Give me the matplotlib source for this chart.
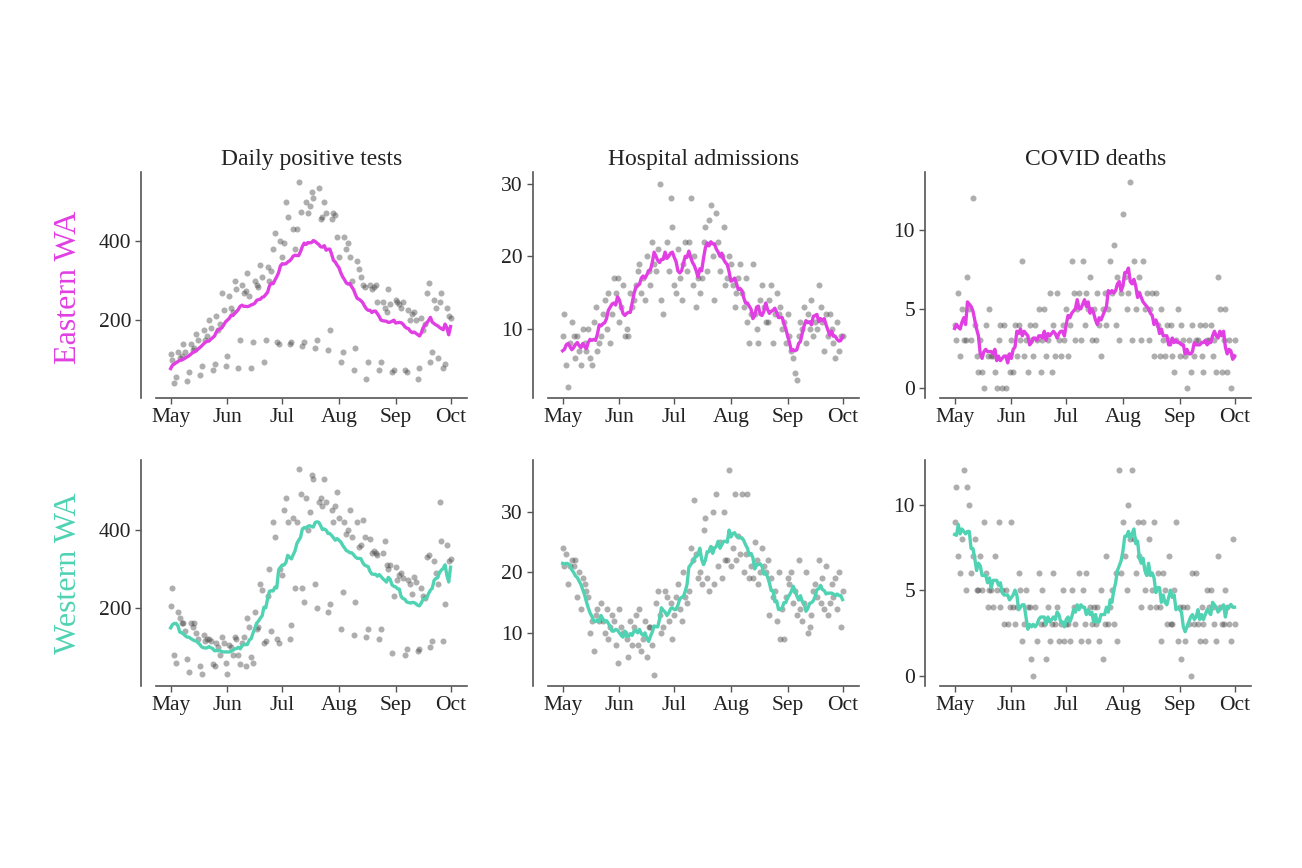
import numpy as np
import pandas as pd
import matplotlib
matplotlib.use("Agg")
import matplotlib.pyplot as plt
import matplotlib.dates as mdates

plt.rcParams['font.family'] = ['Liberation Serif', 'DejaVu Serif']

# ---------------- data ----------------
start_date = "2020-05-01"
n_days = 154
months = ["May", "Jun", "Jul", "Aug", "Sep", "Oct"]
month_starts = ["2020-05-01", "2020-06-01", "2020-07-01", "2020-08-01", "2020-09-01", "2020-10-01"]

row_labels = ["Eastern WA", "Western WA"]
col_titles = ["Daily positive tests", "Hospital admissions", "COVID deaths"]

east_tests = [
    115, 100, 40, 55, 120, 105, 109,
    140, 120, 45, 70, 140, 125, 130,
    165, 150, 60, 85, 175, 150, 160,
    200, 180, 75, 90, 210, 175, 190,
    270, 225, 85, 110, 260, 230, 220,
    300, 280, 80, 150, 290, 270, 275,
    320, 260, 80, 145, 300, 290, 285,
    340, 310, 95, 150, 335, 300, 325,
    380, 420, 145, 140, 400, 360, 395,
    500, 460, 140, 145, 430, 380, 430,
    550, 475, 135, 145, 500, 470, 490,
    525, 510, 130, 150, 535, 455, 460,
    500, 470, 125, 175, 455, 470, 465,
    410, 360, 95, 120, 410, 380, 395,
    360, 300, 75, 130, 350, 330, 310,
    290, 285, 50, 95, 290, 280, 285,
    290, 245, 75, 95, 245, 230, 220,
    280, 240, 70, 75, 250, 245, 240,
    230, 245, 75, 70, 225, 200, 215,
    220, 200, 50, 80, 205, 175, 190,
    270, 295, 95, 120, 250, 230, 105,
    245, 270, 80, 90, 230, 210, 205,
]
east_hosp = [
    9, 12, 5, 2, 8, 11, 9,
    6, 9, 7, 5, 10, 8, 7,
    10, 6, 5, 11, 13, 7, 8,
    9, 12, 14, 10, 15, 8, 12,
    17, 15, 17, 11, 13, 16, 9,
    10, 9, 15, 13, 14, 16, 18,
    19, 15, 17, 14, 20, 18, 16,
    22, 19, 18, 21, 30, 14, 12,
    20, 22, 18, 28, 24, 16, 15,
    21, 17, 14, 19, 22, 18, 22,
    28, 16, 20, 13, 17, 15, 17,
    22, 24, 18, 25, 27, 20, 14,
    26, 22, 18, 20, 24, 16, 17,
    20, 19, 16, 13, 15, 17, 19,
    15, 13, 17, 11, 8, 12, 19,
    12, 10, 8, 14, 16, 13, 11,
    11, 14, 16, 8, 12, 15, 12,
    13, 10, 11, 8, 12, 9, 7,
    6, 4, 3, 9, 11, 10, 13,
    8, 12, 10, 14, 9, 11, 10,
    16, 13, 11, 7, 12, 9, 12,
    10, 8, 6, 11, 7, 9, 9,
]
east_deaths = [
    4, 3, 6, 2, 5, 3, 3,
    7, 5, 3, 12, 4, 2, 1,
    3, 1, 0, 4, 2, 5, 2,
    2, 1, 0, 3, 4, 0, 4,
    0, 2, 1, 3, 1, 4, 2,
    4, 3, 8, 2, 3, 1, 4,
    3, 2, 4, 3, 5, 1, 3,
    5, 2, 3, 6, 1, 4, 2,
    6, 3, 2, 4, 3, 5, 2,
    4, 8, 6, 3, 5, 6, 3,
    8, 4, 6, 5, 7, 3, 5,
    3, 6, 4, 2, 5, 6, 4,
    5, 8, 6, 9, 4, 7, 3,
    6, 11, 7, 5, 6, 13, 3,
    8, 5, 6, 7, 3, 8, 5,
    6, 3, 5, 6, 2, 6, 4,
    2, 5, 3, 2, 4, 3, 4,
    2, 1, 3, 5, 2, 4, 3,
    2, 0, 3, 1, 4, 2, 3,
    3, 4, 2, 1, 4, 3, 3,
    4, 2, 3, 1, 7, 5, 1,
    3, 5, 1, 3, 0, 2, 3,
]
west_tests = [
    205, 250, 80, 60, 190, 175, 160,
    160, 140, 70, 35, 160, 150, 160,
    135, 120, 50, 30, 130, 115, 120,
    120, 115, 55, 50, 110, 100, 80,
    125, 110, 60, 30, 105, 100, 79,
    125, 120, 80, 55, 110, 125, 50,
    175, 150, 75, 60, 190, 145, 150,
    260, 245, 110, 115, 230, 300, 140,
    420, 380, 120, 110, 300, 285, 450,
    480, 420, 120, 155, 430, 250, 420,
    555, 490, 250, 215, 480, 400, 445,
    540, 530, 260, 200, 470, 480, 460,
    530, 470, 190, 210, 450, 420, 460,
    495, 430, 145, 240, 420, 390, 400,
    450, 380, 130, 215, 420, 355, 360,
    425, 380, 125, 145, 375, 340, 345,
    340, 335, 120, 145, 340, 370, 310,
    300, 310, 85, 230, 305, 270, 285,
    290, 275, 80, 95, 270, 260, 235,
    280, 265, 90, 95, 250, 230, 225,
    330, 335, 100, 115, 320, 290, 260,
    470, 370, 115, 210, 360, 320, 325,
]
west_hosp = [
    24, 21, 23, 18, 21, 22, 21,
    22, 16, 20, 14, 19, 18, 17,
    16, 10, 12, 7, 13, 14, 12,
    15, 12, 10, 14, 9, 11, 13,
    12, 8, 5, 14, 11, 10, 10,
    9, 6, 12, 8, 11, 13, 8,
    14, 7, 9, 12, 6, 11, 11,
    8, 3, 15, 17, 13, 10, 11,
    17, 16, 12, 15, 9, 13, 16,
    18, 14, 12, 20, 16, 15, 17,
    24, 22, 32, 23, 19, 20, 18,
    27, 29, 19, 17, 24, 30, 18,
    33, 21, 25, 19, 30, 22, 22,
    37, 21, 24, 33, 22, 26, 23,
    33, 20, 23, 33, 19, 21, 19,
    25, 22, 18, 20, 24, 21, 20,
    22, 13, 19, 16, 17, 12, 20,
    9, 14, 9, 16, 19, 18, 20,
    15, 17, 13, 22, 14, 12, 15,
    20, 10, 11, 13, 17, 18, 16,
    22, 15, 19, 14, 21, 13, 15,
    18, 16, 19, 14, 20, 11, 17,
]
west_deaths = [
    9, 11, 7, 6, 8, 12, 5,
    11, 10, 6, 7, 8, 5, 5,
    7, 5, 9, 6, 4, 5, 5,
    4, 7, 5, 9, 4, 5, 3,
    5, 3, 4, 9, 4, 3, 4,
    6, 5, 2, 3, 5, 4, 4,
    1, 0, 4, 2, 6, 3, 5,
    3, 1, 4, 2, 3, 6, 3,
    4, 2, 3, 5, 2, 3, 3,
    2, 5, 4, 3, 4, 6, 2,
    5, 3, 6, 2, 4, 3, 4,
    3, 4, 2, 5, 1, 3, 7,
    3, 4, 5, 3, 6, 2, 12,
    6, 9, 7, 5, 10, 8, 12,
    8, 6, 9, 7, 4, 9, 5,
    6, 8, 4, 5, 9, 4, 6,
    4, 2, 6, 5, 3, 7, 3,
    3, 5, 9, 2, 4, 1, 4,
    2, 4, 3, 0, 6, 3, 6,
    3, 2, 4, 3, 2, 5, 4,
    5, 4, 3, 2, 7, 4, 3,
    3, 5, 4, 3, 2, 8, 3,
]

series = [[east_tests, east_hosp, east_deaths],
          [west_tests, west_hosp, west_deaths]]
yticks = [[200, 400], [10, 20, 30], [0, 5, 10]]
ylims = [[(3, 575), (0.5, 31.6), (-0.65, 13.65)],
         [(0, 578), (1.2, 38.6), (-0.6, 12.6)]]
row_colors = ["#E13FE3", "#4FD3B3"]

# ---------------- figure ----------------
W, H = 1302, 868
fig = plt.figure(figsize=(W / 100, H / 100), dpi=100)
fig.patch.set_facecolor("white")

dates = pd.date_range(start_date, periods=n_days, freq="D")
tick_dates = pd.to_datetime(month_starts)

lefts = [156, 548, 940]
ax_w = 311
tops = [172, 460]
ax_h = 226

for r in range(2):
    for c in range(3):
        l = lefts[c] / W
        b = 1 - (tops[r] + ax_h) / H
        ax = fig.add_axes([l, b, ax_w / W, ax_h / H])
        vals = pd.Series(series[r][c], index=dates, dtype=float)
        smooth = vals.rolling(7, center=True, min_periods=1).mean()
        ax.scatter(dates, vals.values, s=19, color="#404040", alpha=0.42,
                   linewidths=0, zorder=2)
        ax.plot(dates, smooth.values, color=row_colors[r], lw=2.4, zorder=3,
                solid_joinstyle="round")
        ax.set_xlim(pd.Timestamp("2020-04-23"), pd.Timestamp("2020-10-10"))
        ax.set_ylim(*ylims[r][c])
        ax.set_yticks(yticks[c])
        ax.set_xticks(tick_dates)
        ax.set_xticklabels(months)
        for s in ["top", "right"]:
            ax.spines[s].set_visible(False)
        ax.spines["left"].set_position(("outward", 11))
        for s in ["left", "bottom"]:
            ax.spines[s].set_color("#555555")
            ax.spines[s].set_linewidth(1.2)
        ax.tick_params(axis="both", direction="out", length=4, width=1,
                       color="#555555", labelsize=15.5, labelcolor="#222222",
                       pad=3)
        if r == 0:
            ax.set_title(col_titles[c], fontsize=17, color="#222222", pad=5)

fig.text(68 / W, 1 - 287 / H, row_labels[0], rotation=90, ha="center",
         va="center", fontsize=23, color=row_colors[0])
fig.text(68 / W, 1 - 573 / H, row_labels[1], rotation=90, ha="center",
         va="center", fontsize=23, color=row_colors[1])

fig.savefig("out.png", dpi=100, facecolor="white")
